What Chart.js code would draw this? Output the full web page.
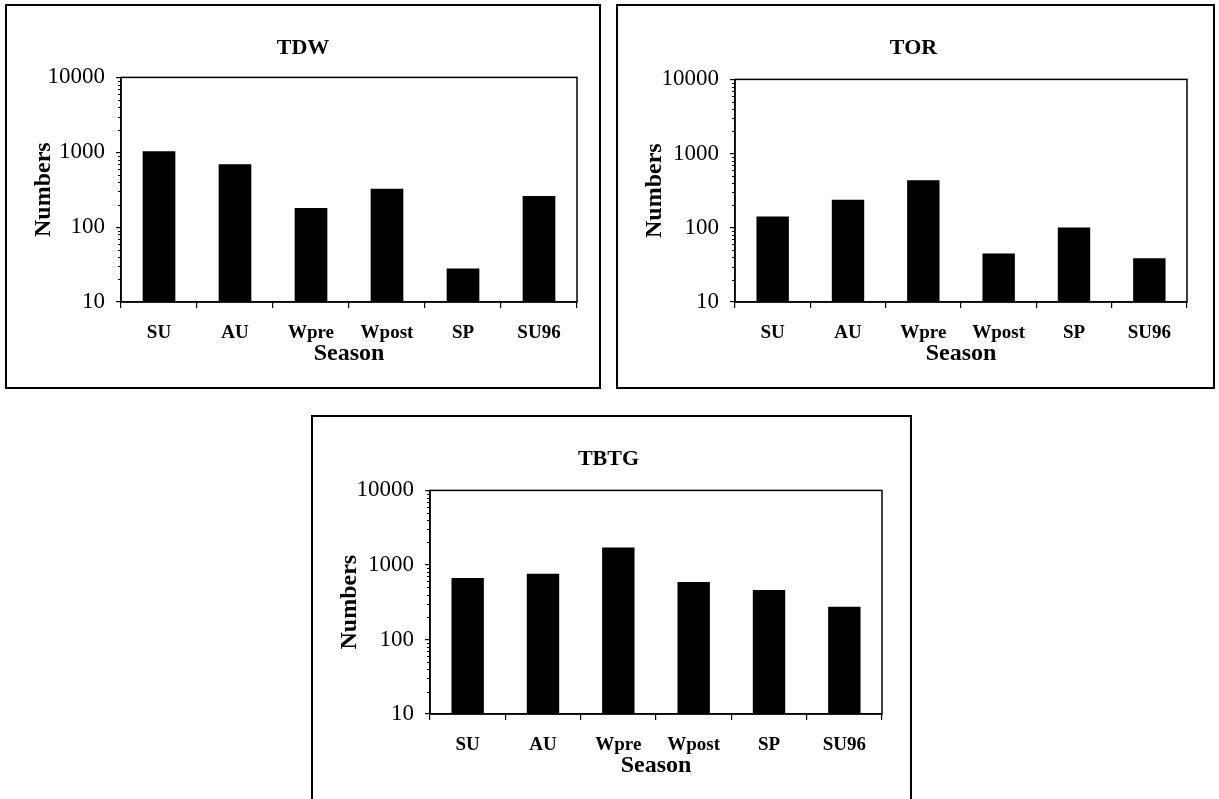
<!DOCTYPE html>
<html>
<head>
<meta charset="utf-8">
<script src="https://cdn.jsdelivr.net/npm/chart.js@4.4.1/dist/chart.umd.min.js"></script>
<style>
  body { margin: 0; background: #fff; width: 1219px; height: 799px; overflow: hidden; position: relative; }
  .box { position: absolute; border: 2px solid #000; background: #fff; }
  .box canvas { display: block; }
</style>
</head>
<body>
<div class="box" style="left:5px;top:4px;width:592px;height:381px"><canvas id="cTDW" width="592" height="381"></canvas></div>
<div class="box" style="left:616px;top:4px;width:595px;height:381px"><canvas id="cTOR" width="595" height="381"></canvas></div>
<div class="box" style="left:311px;top:415px;width:597px;height:400px"><canvas id="cTBTG" width="597" height="400"></canvas></div>

<script>
/* ─────────────────────────────────────────
   DATOS
───────────────────────────────────────── */
const seasons = ["SU", "AU", "Wpre", "Wpost", "SP", "SU96"];
const tdwValues = [1030, 690, 180, 325, 28, 260];
const torValues = [142, 238, 438, 45, 101, 39];
const tbtgValues = [670, 760, 1720, 590, 460, 275];
const yTickValues = [10, 100, 1000, 10000];

const SERIF = '"Liberation Serif", "DejaVu Serif", serif';

/* marco del área de gráfico + marcas menores del eje log */
const framePlugin = {
  id: "frame",
  afterDraw(chart) {
    const { ctx, chartArea: a, scales: { y } } = chart;
    ctx.save();
    ctx.strokeStyle = "#000";
    ctx.lineWidth = 1.5;
    ctx.strokeRect(a.left, a.top, a.right - a.left, a.bottom - a.top);
    ctx.lineWidth = 1;
    ctx.beginPath();
    for (let d = yTickValues[0]; d < yTickValues[yTickValues.length - 1]; d *= 10) {
      for (let m = 2; m <= 9; m++) {
        const py = Math.round(y.getPixelForValue(d * m)) + 0.5;
        ctx.moveTo(a.left - 3, py);
        ctx.lineTo(a.left, py);
      }
    }
    ctx.stroke();
    ctx.restore();
  }
};

function makeChart(id, title, values, g) {
  const ctx = document.getElementById(id).getContext("2d");
  return new Chart(ctx, {
    type: "bar",
    data: {
      labels: seasons,
      datasets: [{
        data: values,
        backgroundColor: "#000",
        borderWidth: 0,
        barPercentage: 0.43,
        categoryPercentage: 1
      }]
    },
    options: {
      responsive: false,
      animation: false,
      layout: { padding: { left: 22, right: g.right, top: 0, bottom: g.bottom } },
      plugins: {
        legend: { display: false },
        tooltip: { enabled: false },
        title: {
          display: true,
          text: title,
          color: "#000",
          font: { family: SERIF, size: 22, weight: "bold" },
          padding: { top: 29, bottom: g.titleGap }
        }
      },
      scales: {
        x: {
          grid: { offset: true, drawOnChartArea: false, drawTicks: true, tickLength: 6, color: "#000", lineWidth: 1.2 },
          border: { display: true, color: "#000", width: 1.5 },
          ticks: { color: "#000", font: { family: SERIF, size: 19, weight: "bold" }, padding: 14, maxRotation: 0, autoSkip: false },
          title: {
            display: true, text: "Season", color: "#000",
            font: { family: SERIF, size: 24, weight: "bold" },
            padding: { top: 0, bottom: 4 }
          },
          afterFit: s => { s.height = 70; }
        },
        y: {
          type: "logarithmic",
          min: 10,
          max: 10000,
          afterBuildTicks: s => { s.ticks = yTickValues.map(v => ({ value: v })); },
          grid: { drawOnChartArea: false, drawTicks: true, tickLength: 5, color: "#000", lineWidth: 1.2 },
          border: { display: true, color: "#000", width: 1.5 },
          ticks: { color: "#000", font: { family: SERIF, size: 23 }, padding: 11, callback: v => String(v) },
          title: {
            display: true, text: "Numbers", color: "#000",
            font: { family: SERIF, size: 24, weight: "bold" },
            padding: 0
          },
          afterFit: s => { s.width = g.plotLeft - 22; }
        }
      }
    },
    plugins: [framePlugin]
  });
}

makeChart("cTDW", "TDW", tdwValues, { plotLeft: 114, right: 22, bottom: 15, titleGap: 16 });
makeChart("cTOR", "TOR", torValues, { plotLeft: 117, right: 26, bottom: 15, titleGap: 18 });
makeChart("cTBTG", "TBTG", tbtgValues, { plotLeft: 117, right: 28, bottom: 33, titleGap: 18 });
</script>
</body>
</html>
